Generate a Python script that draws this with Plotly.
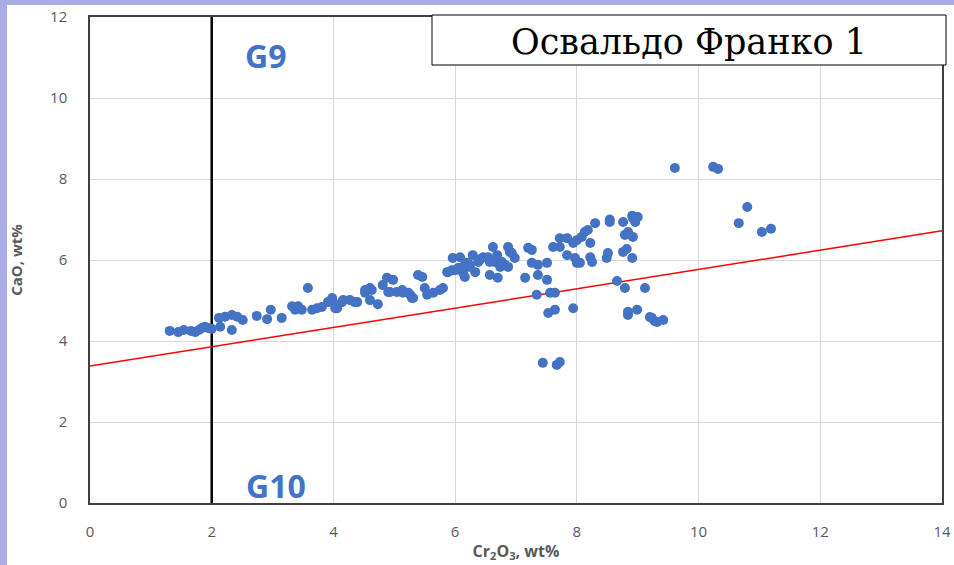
import plotly.graph_objects as go

# Cr2O3 (wt%) and CaO (wt%) of the garnets
cr2o3 = [1.31, 1.45, 1.54, 1.66, 1.73, 1.79, 1.84, 1.89, 1.94, 2.00, 2.14, 2.33,
         2.12, 2.22, 2.33, 2.42, 2.51, 2.74, 2.91, 2.97, 3.15, 3.32, 3.42, 3.37,
         3.58, 3.65, 3.73, 3.81, 3.91, 3.98, 3.48,
         4.06, 4.14, 4.27, 4.39, 4.52, 4.60, 4.73, 4.63, 4.81, 4.88, 4.98, 4.93,
         5.04, 5.14, 5.26, 5.31, 5.39,
         3.99, 4.16, 4.35, 4.03, 4.60, 4.52, 4.90, 5.13, 5.23, 5.29, 5.46, 5.50,
         5.54, 5.64, 5.75, 5.80, 5.87, 5.95, 5.96, 6.08, 6.05, 6.13, 6.19, 6.16,
         6.24, 6.33, 6.29, 6.38,
         5.88, 6.00, 6.08, 6.16, 6.24, 6.41, 6.46, 6.54, 6.62, 6.69, 6.57, 6.65,
         6.77, 6.82, 6.74, 6.87, 6.57, 6.70, 6.87, 6.90, 6.93, 6.98, 7.15, 7.20,
         7.26, 7.26, 7.36, 7.51, 7.36, 7.51, 7.61, 7.72, 7.72, 7.84, 7.84, 7.94,
         8.00, 7.97, 8.00, 7.34, 7.56, 7.64,
         7.44, 7.67, 7.72, 7.64, 7.53, 7.94, 8.66, 8.79, 9.12, 8.84, 8.99, 9.20,
         9.28,
         8.30, 8.54, 8.54, 8.76, 8.91, 9.00, 8.96, 8.92, 8.79, 8.84, 8.92, 8.13,
         8.18, 8.08, 8.22, 8.05, 8.22, 8.25, 8.49, 8.51, 8.76, 8.82, 8.91, 8.84,
         9.23, 9.32, 9.42,
         9.61, 10.24, 10.32, 10.80, 10.66, 11.04, 11.19]
cao = [4.25, 4.22, 4.27, 4.25, 4.22, 4.27, 4.32, 4.35, 4.32, 4.30, 4.35, 4.27,
       4.57, 4.60, 4.64, 4.60, 4.52, 4.62, 4.54, 4.77, 4.57, 4.86, 4.86, 4.77,
       5.31, 4.77, 4.81, 4.84, 4.96, 5.06, 4.77,
       4.81, 4.96, 5.01, 4.96, 5.19, 5.01, 4.91, 5.26, 5.38, 5.56, 5.51, 5.21,
       5.21, 5.19, 5.14, 5.06, 5.63,
       4.96, 5.01, 4.96, 4.81, 5.31, 5.26, 5.21, 5.26, 5.19, 5.06, 5.58, 5.31,
       5.14, 5.19, 5.26, 5.31, 5.70, 5.75, 6.05, 6.07, 5.80, 5.68, 5.93, 5.58,
       5.83, 5.70, 6.12, 5.95,
       5.70, 5.75, 5.80, 5.88, 5.88, 6.02, 6.07, 6.07, 6.32, 6.12, 5.95, 5.95,
       5.95, 5.88, 5.83, 5.83, 5.63, 5.56, 6.32, 6.20, 6.17, 6.05, 5.56, 6.30,
       6.25, 5.93, 5.88, 5.93, 5.63, 5.51, 6.32, 6.32, 6.54, 6.54, 6.12, 6.42,
       6.49, 6.05, 5.93, 5.14, 5.19, 5.19,
       3.46, 3.41, 3.48, 4.77, 4.69, 4.81, 5.48, 5.31, 5.31, 4.72, 4.77, 4.59,
       4.49,
       6.91, 6.94, 7.00, 6.94, 7.09, 7.06, 6.94, 7.04, 6.62, 6.69, 6.57, 6.69,
       6.74, 6.57, 6.42, 5.93, 6.07, 5.95, 6.05, 6.17, 6.20, 6.27, 6.05, 4.64,
       4.57, 4.47, 4.52,
       8.27, 8.30, 8.25, 7.31, 6.91, 6.69, 6.77]

# G9 / G10 divider and the boundary line
divider_x = [2, 2]
divider_y = [0, 12]
boundary_x = [0, 14]
boundary_y = [3.38, 6.72]

fig = go.Figure()
fig.add_trace(go.Scatter(x=divider_x, y=divider_y, mode='lines',
                         line=dict(color='black', width=2.5), hoverinfo='skip'))
fig.add_trace(go.Scatter(x=boundary_x, y=boundary_y, mode='lines',
                         line=dict(color='#FF0000', width=1.5), hoverinfo='skip'))
fig.add_trace(go.Scatter(x=cr2o3, y=cao, mode='markers',
                         marker=dict(color='#4472C4', size=10, line=dict(width=0))))

W, H = 954, 565
ml, mr, mt, mb = 90, 12, 17, 62
pw, ph = W - ml - mr, H - mt - mb


def px(x):
    return (x - ml) / pw


def py(y):
    return (H - mb - y) / ph


lavender = '#ABABE6'
fig.update_layout(
    width=W, height=H,
    margin=dict(l=ml, r=mr, t=mt, b=mb, autoexpand=False),
    paper_bgcolor='white', plot_bgcolor='white',
    showlegend=False,
    font=dict(family='Open Sans', color='#595959'),
    shapes=[
        dict(type='rect', xref='paper', yref='paper', x0=px(0), x1=px(7),
             y0=py(H), y1=py(0), fillcolor=lavender, line=dict(width=0), layer='above'),
        dict(type='rect', xref='paper', yref='paper', x0=px(0), x1=px(W),
             y0=py(5), y1=py(0), fillcolor=lavender, line=dict(width=0), layer='above'),
        dict(type='rect', xref='paper', yref='paper', x0=px(432), x1=px(946),
             y0=py(65), y1=py(15), fillcolor='white',
             line=dict(color='black', width=1), layer='above'),
    ],
    annotations=[
        dict(text='Освальдо Франко 1', xref='paper', yref='paper',
             x=px(689), y=py(42), xanchor='center', yanchor='middle',
             showarrow=False,
             font=dict(family='DejaVu Serif', size=35, color='black')),
        dict(text='<b>G9</b>', x=2.89, y=11.05, showarrow=False,
             font=dict(family='Open Sans', size=32, color='#4472C4')),
        dict(text='<b>G10</b>', x=3.05, y=0.42, showarrow=False,
             font=dict(family='Open Sans', size=32, color='#4472C4')),
    ],
)
fig.update_xaxes(range=[0, 14], dtick=2, showgrid=True, gridcolor='#D9D9D9',
                 zeroline=False, showline=True, linecolor='#404040', linewidth=1.5,
                 mirror=True, ticks='', ticklabelstandoff=14, automargin=False,
                 tickfont=dict(size=15, color='#595959'),
                 title=dict(text='<b>Cr<sub>2</sub>O<sub>3</sub>, wt%</b>',
                            font=dict(size=16, color='#595959'), standoff=6))
fig.update_yaxes(range=[0, 12], dtick=2, showgrid=True, gridcolor='#D9D9D9',
                 zeroline=False, showline=True, linecolor='#404040', linewidth=1.5,
                 mirror=True, ticks='', ticklabelstandoff=18, automargin=False,
                 tickfont=dict(size=15, color='#595959'),
                 title=dict(text='<b>CaO, wt%</b>',
                            font=dict(size=15, color='#595959'), standoff=24))

# the page's default body margin would shift the figure by 8px
fig.write_html("out.html", config={'displayModeBar': False},
               post_script="document.body.style.margin='0';")
